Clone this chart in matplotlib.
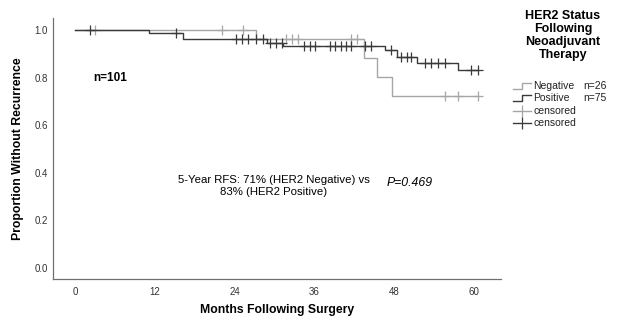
import numpy as np
import matplotlib
matplotlib.use("Agg")
import matplotlib.pyplot as plt
from matplotlib.lines import Line2D

plt.rcParams['font.family'] = ['Liberation Sans', 'DejaVu Sans']

# Kaplan-Meier step data, HER2 positive group
pos_times = [0, 11.2, 16.3, 28.9, 31.3, 46.6, 48.5, 51.5, 57.6]
pos_surv = [1.0, 0.987, 0.96, 0.945, 0.931, 0.914, 0.886, 0.862, 0.833]
pos_end = 60.6
pos_censored = [2.2, 15.2, 24.3, 25.2, 26.1, 27.2, 28.3, 29.4, 30.3, 31.1,
                34.5, 35.3, 36.1, 38.3, 39.2, 40.0, 40.8, 41.6, 43.6, 44.5,
                47.5, 49.1, 49.9, 50.6, 52.6, 53.6, 54.6, 55.6, 59.6, 60.6]

# HER2 negative group
neg_times = [0, 27.3, 43.5, 45.5, 47.7]
neg_surv = [1.0, 0.962, 0.882, 0.802, 0.721]
neg_end = 60.6
neg_censored = [3.05, 22.2, 25.3, 31.8, 32.6, 33.5, 41.6, 42.5, 55.6, 57.6, 60.6]

x_ticks = [0, 12, 24, 36, 48, 60]
y_ticks = [0.0, 0.2, 0.4, 0.6, 0.8, 1.0]

dark = '#3a3a3a'
light = '#a6a6a6'


def surv_at(times, surv, t):
    i = np.searchsorted(times, t, side='right') - 1
    return np.array(surv)[i]


fig = plt.figure(figsize=(6.26, 3.24), dpi=100)
ax = fig.add_axes([53 / 626, 45 / 324, 448 / 626, 261 / 324])

for times, surv, end, cens, col in [(neg_times, neg_surv, neg_end, neg_censored, light),
                                    (pos_times, pos_surv, pos_end, pos_censored, dark)]:
    xs = list(times) + [end]
    ys = list(surv) + [surv[-1]]
    ax.step(xs, ys, where='post', color=col, lw=1.0)
    ax.plot(cens, surv_at(times, surv, cens), ls='none', marker='+',
            ms=6.5, mew=0.9, color=col)

ax.set_xlim(-3.3, 64.1)
ax.set_ylim(-0.046, 1.05)
ax.set_xticks(x_ticks)
ax.set_xticklabels([str(v) for v in x_ticks])
ax.set_yticks(y_ticks)
ax.set_yticklabels(['%.1f' % v for v in y_ticks])
ax.tick_params(length=0, labelsize=7, colors='#333333')
ax.tick_params(axis='x', pad=6)
ax.tick_params(axis='y', pad=3.5)
for side in ['top', 'right']:
    ax.spines[side].set_visible(False)
for side in ['left', 'bottom']:
    ax.spines[side].set_color('#707070')
    ax.spines[side].set_linewidth(0.9)

ax.set_xlabel('Months Following Surgery', fontsize=8.8, fontweight='bold', labelpad=5)
ax.set_ylabel('Proportion Without Recurrence', fontsize=8.8, fontweight='bold', labelpad=8)

fig.text(93 / 626, 1 - 78 / 324, 'n=101', fontsize=8.5, fontweight='bold', va='center')
fig.text(274 / 626, 1 - 186 / 324, '5-Year RFS: 71% (HER2 Negative) vs\n83% (HER2 Positive)',
         fontsize=8.2, ha='center', va='center', linespacing=1.2)
fig.text(387 / 626, 1 - 183 / 324, 'P=0.469', fontsize=8.8, style='italic', va='center')

# legend
fig.text(563 / 626, 1 - 10 / 324, 'HER2 Status\nFollowing\nNeoadjuvant\nTherapy',
         fontsize=9, fontweight='bold', ha='center', va='top', linespacing=1.12)

entries = [('Negative', 'n=26', light, 'step'), ('Positive', 'n=75', dark, 'step'),
           ('censored', '', light, 'cens'), ('censored', '', dark, 'cens')]
for i, (lab, n, col, kind) in enumerate(entries):
    yc = 86 + i * 12.3
    if kind == 'step':
        xs = [513, 522, 522, 531]
        ys = [yc + 3, yc + 3, yc - 3, yc - 3]
        fig.add_artist(Line2D([x / 626 for x in xs], [1 - y / 324 for y in ys],
                              color=col, lw=1.0, transform=fig.transFigure))
    else:
        fig.add_artist(Line2D([513 / 626, 531 / 626], [1 - yc / 324] * 2, color=col,
                              lw=1.0, transform=fig.transFigure))
        fig.add_artist(Line2D([522 / 626], [1 - yc / 324], color=col, marker='|', ms=8,
                              mew=0.9, transform=fig.transFigure))
    fig.text(533 / 626, 1 - yc / 324, lab, fontsize=7.5, va='center', color='#222222')
    if n:
        fig.text(583 / 626, 1 - yc / 324, n, fontsize=7.5, va='center', color='#222222')

fig.savefig('out.png', dpi=100)
